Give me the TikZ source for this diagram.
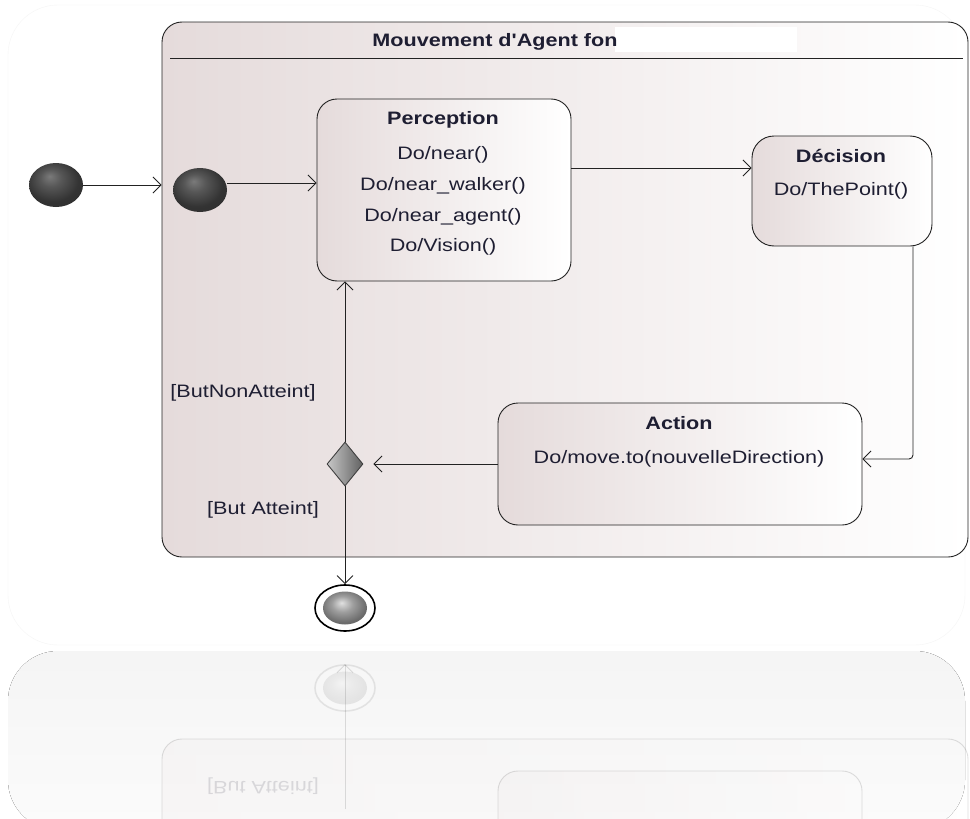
\documentclass[tikz,border=0pt]{standalone}
\usepackage{fontspec}
\setmainfont{Liberation Sans}[FakeStretch=1.2, Ligatures=TeXOff]
\usetikzlibrary{arrows.meta,shapes.geometric}

\definecolor{txt}{HTML}{1E1E32}
\definecolor{pinkgray}{HTML}{E5DBDB}
\definecolor{edge}{HTML}{222222}

% dark sphere for initial pseudo-states, grey sphere for the final state
\pgfdeclareradialshading{darkball}{\pgfpoint{-6bp}{10bp}}{color(0bp)=(black!52); color(10bp)=(black!66); color(24bp)=(black!80); color(50bp)=(black!84)}
\pgfdeclareradialshading{greyball}{\pgfpoint{-4bp}{8bp}}{color(0bp)=(black!12); color(12bp)=(black!38); color(26bp)=(black!58); color(50bp)=(black!64)}

\begin{document}
\begin{tikzpicture}[x=1pt,y=-1pt,
  txtfont/.style={font=\fontsize{18}{30.7}\selectfont},
  statebox/.style={draw=edge, line width=0.9pt, rounded corners=20pt,
    left color=pinkgray, right color=white, rectangle, inner sep=0pt},
  stitle/.style={txtfont, font=\fontsize{18}{30.7}\selectfont\bfseries, text=txt},
  sbody/.style={txtfont, text=txt, align=center},
  guard/.style={txtfont, text=txt},
  flow/.style={draw=edge, line width=0.9pt, -{Straight Barb[length=8pt,width=16pt,line width=0.9pt]}},
  initstate/.style={ellipse, minimum width=54pt, minimum height=44pt, inner sep=0pt, shading=darkball},
  finring/.style={ellipse, minimum width=60pt, minimum height=46pt, inner sep=0pt, draw=black, line width=1.6pt, fill=white},
  finball/.style={ellipse, minimum width=44pt, minimum height=33pt, inner sep=0pt, shading=greyball},
  choice/.style={diamond, minimum width=36pt, minimum height=44pt, inner sep=0pt,
    draw=black!75, line width=0.9pt, left color=black!22, right color=black!62},
]
\useasboundingbox (0,0) rectangle (970,819);
\clip (0,0) rectangle (970,819);
\fill[white] (0,0) rectangle (970,819);

% backing card and its reflection
\draw[black!4, fill=white, rounded corners=50pt] (8,5) rectangle (965,645);
\fill[top color=black!4, bottom color=black!1.5, rounded corners=50pt] (8,651) rectangle (965,830);

% composite state
\node[statebox, minimum width=806pt, minimum height=535pt] (comp) at (565,289.5) {};
\fill[white] (615,27) rectangle (797,52);
\node[stitle] (comptitle) at (495,42) {Mouvement d'Agent fon};
\draw[edge, line width=0.9pt] (170,58) -- (963,58);

% pseudo-states
\node[initstate] (init) at (56,185) {};
\node[initstate] (init2) at (200,190) {};

% states
\node[statebox, minimum width=254pt, minimum height=182pt] (perc) at (444,190) {};
\node[stitle] (perct) at (443,120) {Perception};
\node[sbody] (percb) at (443,201) {Do/near()\\Do/near\_walker()\\Do/near\_agent()\\Do/Vision()};

\node[statebox, rounded corners=22pt, minimum width=180pt, minimum height=110pt] (dec) at (842,191) {};
\node[stitle] (dect) at (841,156) {Décision};
\node[sbody] (decb) at (841,191) {Do/ThePoint()};

\node[statebox, minimum width=364pt, minimum height=122pt] (act) at (680,464) {};
\node[stitle] (actt) at (679,423) {Action};
\node[sbody] (actb) at (679,459) {Do/move.to(nouvelleDirection)};

\node[choice] (dia) at (345,464) {};

\node[finring] (fin) at (345,608) {};
\node[finball] (finb) at (345,608) {};

% guards
\node[guard] (g1) at (243,393) {[ButNonAtteint]};
\node[guard] (g2) at (263,510) {[But Atteint]};

% transitions
\draw[flow] (init.east) -- (init.east -| comp.west);
\draw[flow] ([yshift=7pt]init2.east) -- ([yshift=7pt]init2.east -| perc.west);
\draw[flow] ([yshift=22pt]perc.east) -- ([yshift=22pt]perc.east -| dec.west);
\draw[flow, rounded corners=4pt] ([xshift=71pt]dec.south) |- ([yshift=5pt]act.east);
\draw[flow, shorten >=10pt] (act.west) -- (dia.east);
\draw[flow] (dia.north) -- (dia.north |- perc.south);
\draw[flow] (dia.south) -- (fin.north);

% mirrored reflection under the diagram
\begin{scope}[shift={(0,1296)}, yscale=-1, opacity=0.14]
  \clip (0,0) rectangle (970,645);
  \node[statebox, minimum width=806pt, minimum height=535pt] (rcomp) at (565,289.5) {};
  \node[statebox, minimum width=364pt, minimum height=122pt] (ract) at (680,464) {};
  \node[guard, transform shape] (rg2) at (263,510) {[But Atteint]};
  \node[finring, draw=black!60] (rfin) at (345,608) {};
  \node[finball] (rfinb) at (345,608) {};
  \draw[flow] (345,487) -- (rfin.north);
\end{scope}
\end{tikzpicture}
\end{document}
